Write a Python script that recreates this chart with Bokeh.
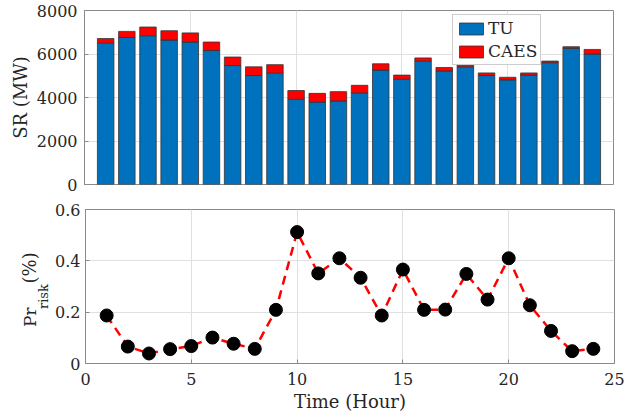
import math
from bokeh.plotting import figure
from bokeh.layouts import column, row
from bokeh.models import Range1d, FixedTicker, ColumnDataSource, Legend
from bokeh.core.properties import value
from bokeh.embed import file_html
from bokeh.resources import INLINE

# ---- data ----
hours = list(range(1, 25))
tu_mw = [6500, 6760, 6840, 6640, 6550, 6160, 5470, 5010, 5120, 3920, 3790, 3840,
         4210, 5260, 4840, 5670, 5220, 5410, 5010, 4810, 5030, 5600, 6260, 6000]
caes_mw = [210, 280, 400, 430, 420, 390, 390, 400, 390, 400, 400, 430,
           350, 290, 190, 150, 160, 120, 120, 120, 100, 75, 75, 210]
pr_risk = [0.187, 0.066, 0.039, 0.056, 0.068, 0.101, 0.077, 0.057, 0.209, 0.512, 0.351, 0.410,
           0.334, 0.187, 0.366, 0.209, 0.210, 0.349, 0.249, 0.410, 0.227, 0.127, 0.048, 0.057]
series_names = ["TU", "CAES"]
series_colors = ["#0072BD", "#FF0000"]
x_ticks = [0, 5, 10, 15, 20, 25]
sr_ticks = [0, 2000, 4000, 6000, 8000]
pr_ticks = [0, 0.2, 0.4, 0.6]

FONT = "DejaVu Serif"
TXT = "#262626"
GRID = "#e0e0e0"
FRAME = "#8a8a8a"


def style(p):
    p.background_fill_color = "white"
    p.border_fill_color = "white"
    p.outline_line_color = FRAME
    p.outline_line_width = 1
    for ax in p.axis:
        ax.axis_line_color = FRAME
        ax.major_tick_line_color = FRAME
        ax.major_tick_in = 4
        ax.major_tick_out = 0
        ax.minor_tick_line_color = None
        ax.major_label_text_font = FONT
        ax.major_label_text_font_size = "16px"
        ax.major_label_text_color = TXT
        ax.axis_label_text_font = FONT
        ax.axis_label_text_font_size = "18px"
        ax.axis_label_text_color = TXT
        ax.axis_label_text_font_style = "normal"
    for g in p.grid:
        g.grid_line_color = GRID
        g.grid_line_width = 1


# ---- top: stacked bars ----
src = ColumnDataSource(dict(x=hours, TU=tu_mw, CAES=caes_mw))
p1 = figure(frame_width=529, frame_height=174, min_border_left=84, min_border_right=20,
            min_border_top=10, min_border_bottom=12, output_backend="svg",
            toolbar_location=None, x_range=Range1d(0, 25), y_range=Range1d(0, 8000))
rs = p1.vbar_stack(series_names, x="x", width=0.78, color=series_colors, source=src,
                   line_color="#333333", line_width=0.8)
p1.xaxis.visible = False
p1.xgrid.ticker = FixedTicker(ticks=x_ticks)
p1.yaxis.ticker = FixedTicker(ticks=sr_ticks)
p1.yaxis.axis_label = "SR (MW)"
p1.yaxis.major_label_standoff = 7
p1.yaxis.axis_label_standoff = 3
style(p1)
legend = Legend(items=[(n, [r]) for n, r in zip(series_names, rs)], location=(368, 119))
legend.glyph_width = 30
legend.glyph_height = 15
legend.label_height = 16
legend.label_text_font = FONT
legend.label_text_font_size = "17px"
legend.label_text_color = TXT
legend.label_standoff = 2
legend.spacing = 3
legend.padding = 3
legend.margin = 0
legend.border_line_color = "#999999"
legend.background_fill_color = "white"
legend.background_fill_alpha = 1
p1.add_layout(legend)

# ---- bottom: risk ----
p2 = figure(frame_width=529, frame_height=154, min_border_left=32, min_border_right=20,
            min_border_top=13, min_border_bottom=50, output_backend="svg",
            toolbar_location=None, x_range=Range1d(0, 25), y_range=Range1d(0, 0.6))
p2.line(hours, pr_risk, line_color="#FF0000", line_width=2.5, line_dash="9 6")
p2.scatter(hours, pr_risk, size=13, fill_color="black", line_color="black")
p2.xaxis.ticker = FixedTicker(ticks=x_ticks)
p2.yaxis.ticker = FixedTicker(ticks=pr_ticks)
p2.yaxis.major_label_overrides = {0: "0"}
p2.xaxis.axis_label = "Time (Hour)"
p2.xaxis.major_label_standoff = 9
p2.xaxis.axis_label_standoff = 3
p2.yaxis.major_label_standoff = 5
style(p2)

# strip left of the bottom plot holding the rotated y label with a subscript
LW = 52
lab = figure(frame_width=LW, frame_height=154, min_border_left=0, min_border_right=0,
             min_border_top=13, min_border_bottom=50, output_backend="svg",
             toolbar_location=None, x_range=Range1d(0, LW), y_range=Range1d(0, 154),
             x_axis_type=None, y_axis_type=None)
lab.outline_line_color = None
lab.background_fill_color = "white"
lab.border_fill_color = "white"
lab.grid.visible = False
lab.text(x=[29], y=[36.5], text=["Pr"], angle=math.pi / 2, text_align="left",
         text_baseline="middle", text_font=value(FONT), text_font_size="17px", text_color=TXT)
lab.text(x=[43], y=[54.5], text=["risk"], angle=math.pi / 2, text_align="left",
         text_baseline="middle", text_font=value(FONT), text_font_size="13px", text_color=TXT)
lab.text(x=[29], y=[80], text=["(%)"], angle=math.pi / 2, text_align="left",
         text_baseline="middle", text_font=value(FONT), text_font_size="18px", text_color=TXT)

layout = column(p1, row(lab, p2, spacing=0), spacing=0)
open("out.html", "w").write(file_html(layout, INLINE))
